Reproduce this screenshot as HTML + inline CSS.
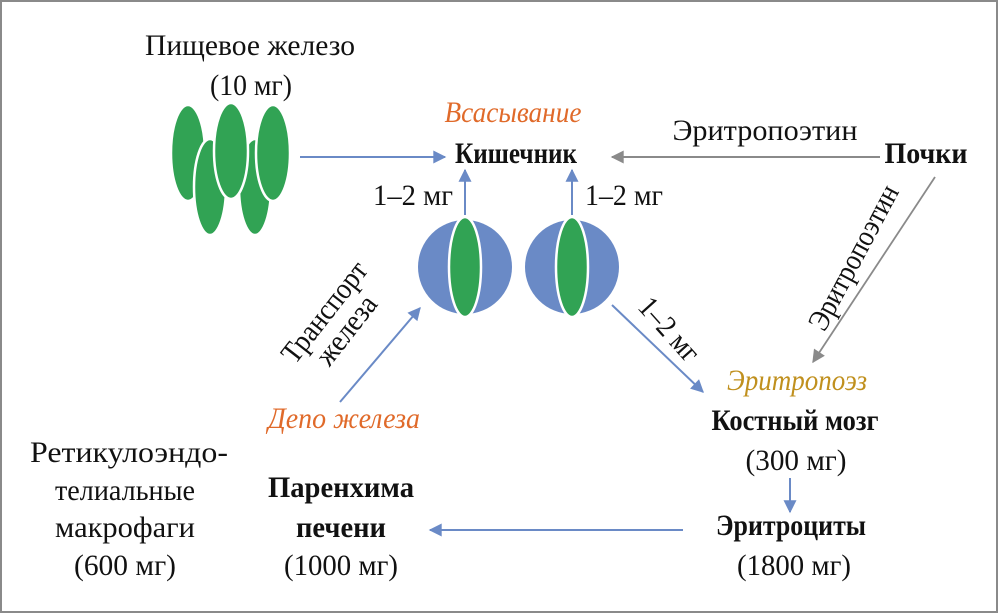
<!DOCTYPE html>
<html><head><meta charset="utf-8"><style>
html,body{margin:0;padding:0;background:#fff}
svg{display:block}
text{font-family:"Liberation Serif",serif;font-size:30px;fill:#111}
.b{font-weight:bold}
.i{font-style:italic}
</style></head><body>
<svg width="998" height="613" viewBox="0 0 998 613" xmlns="http://www.w3.org/2000/svg">
<defs>
<marker id="ab" viewBox="0 0 10 10" refX="9" refY="5" markerWidth="15" markerHeight="13" markerUnits="userSpaceOnUse" orient="auto"><path d="M0,0 L10,5 L0,10 z" fill="#6a8ac6"/></marker>
<marker id="ag" viewBox="0 0 10 10" refX="9" refY="5" markerWidth="15" markerHeight="13" markerUnits="userSpaceOnUse" orient="auto"><path d="M0,0 L10,5 L0,10 z" fill="#8a8a8a"/></marker>
</defs>
<rect x="1" y="1" width="996" height="611" fill="#fff" stroke="#8a8a8a" stroke-width="2"/>

<text x="250" y="55" text-anchor="middle" textLength="210" lengthAdjust="spacingAndGlyphs">Пищевое железо</text>
<text x="251" y="95" text-anchor="middle" textLength="82" lengthAdjust="spacingAndGlyphs">(10 мг)</text>

<g fill="#31a354" stroke="#fff" stroke-width="2.5">
<ellipse cx="188" cy="153" rx="17" ry="48"/>
<ellipse cx="210" cy="187" rx="16" ry="48"/>
<ellipse cx="255" cy="187" rx="16" ry="48"/>
<ellipse cx="231" cy="151" rx="17" ry="48"/>
<ellipse cx="273" cy="153" rx="17" ry="48"/>
</g>

<line x1="300" y1="157" x2="445" y2="157" stroke="#6a8ac6" stroke-width="2" marker-end="url(#ab)"/>
<text x="513" y="122" text-anchor="middle" class="i" style="fill:#e06a2a" textLength="137" lengthAdjust="spacingAndGlyphs">Всасывание</text>
<text x="516" y="163" text-anchor="middle" class="b" textLength="122" lengthAdjust="spacingAndGlyphs">Кишечник</text>
<line x1="880" y1="157" x2="612" y2="157" stroke="#8a8a8a" stroke-width="2" marker-end="url(#ag)"/>
<text x="765" y="140" text-anchor="middle" textLength="185" lengthAdjust="spacingAndGlyphs">Эритропоэтин</text>
<text x="926" y="163" text-anchor="middle" class="b" textLength="83" lengthAdjust="spacingAndGlyphs">Почки</text>

<circle cx="465" cy="267" r="47" fill="#6a8ac6"/>
<ellipse cx="465" cy="267" rx="16" ry="50" fill="#31a354" stroke="#fff" stroke-width="2.5"/>
<circle cx="572" cy="267" r="47" fill="#6a8ac6"/>
<ellipse cx="572" cy="267" rx="16" ry="50" fill="#31a354" stroke="#fff" stroke-width="2.5"/>
<line x1="465" y1="215" x2="465" y2="170" stroke="#6a8ac6" stroke-width="2" marker-end="url(#ab)"/>
<line x1="572" y1="215" x2="572" y2="170" stroke="#6a8ac6" stroke-width="2" marker-end="url(#ab)"/>
<text x="413" y="205" text-anchor="middle" textLength="80" lengthAdjust="spacingAndGlyphs">1–2 мг</text>
<text x="624" y="205" text-anchor="middle" textLength="78" lengthAdjust="spacingAndGlyphs">1–2 мг</text>

<line x1="935" y1="177" x2="813" y2="362" stroke="#8a8a8a" stroke-width="1.8" marker-end="url(#ag)"/>
<text transform="translate(862,262) rotate(-62)" text-anchor="middle" textLength="160" lengthAdjust="spacingAndGlyphs">Эритропоэтин</text>

<line x1="612" y1="305" x2="703" y2="392" stroke="#6a8ac6" stroke-width="2" marker-end="url(#ab)"/>
<text transform="translate(662,336) rotate(48)" text-anchor="middle" textLength="76" lengthAdjust="spacingAndGlyphs">1–2 мг</text>

<line x1="340" y1="402" x2="420" y2="308" stroke="#6a8ac6" stroke-width="2" marker-end="url(#ab)"/>
<text transform="translate(332,318) rotate(-52)" text-anchor="middle" textLength="120" lengthAdjust="spacingAndGlyphs">Транспорт</text>
<text transform="translate(354,336) rotate(-52)" text-anchor="middle" textLength="80" lengthAdjust="spacingAndGlyphs">железа</text>

<text x="344" y="428" text-anchor="middle" class="i" style="fill:#e06a2a" textLength="152" lengthAdjust="spacingAndGlyphs">Депо железа</text>
<text x="797" y="390" text-anchor="middle" class="i" style="fill:#c0901e" textLength="140" lengthAdjust="spacingAndGlyphs">Эритропоэз</text>
<text x="795" y="430" text-anchor="middle" class="b" textLength="167" lengthAdjust="spacingAndGlyphs">Костный мозг</text>
<text x="796" y="470" text-anchor="middle" textLength="101" lengthAdjust="spacingAndGlyphs">(300 мг)</text>
<line x1="790" y1="478" x2="790" y2="512" stroke="#6a8ac6" stroke-width="2" marker-end="url(#ab)"/>
<text x="791" y="535" text-anchor="middle" class="b" textLength="150" lengthAdjust="spacingAndGlyphs">Эритроциты</text>
<text x="794" y="575" text-anchor="middle" textLength="114" lengthAdjust="spacingAndGlyphs">(1800 мг)</text>
<line x1="683" y1="530" x2="430" y2="530" stroke="#6a8ac6" stroke-width="2" marker-end="url(#ab)"/>

<text x="341" y="497" text-anchor="middle" class="b" textLength="146" lengthAdjust="spacingAndGlyphs">Паренхима</text>
<text x="341" y="537" text-anchor="middle" class="b" textLength="90" lengthAdjust="spacingAndGlyphs">печени</text>
<text x="341" y="575" text-anchor="middle" textLength="114" lengthAdjust="spacingAndGlyphs">(1000 мг)</text>

<text x="129" y="462" text-anchor="middle" textLength="198" lengthAdjust="spacingAndGlyphs">Ретикулоэндо-</text>
<text x="125" y="500" text-anchor="middle" textLength="140" lengthAdjust="spacingAndGlyphs">телиальные</text>
<text x="125" y="537" text-anchor="middle" textLength="140" lengthAdjust="spacingAndGlyphs">макрофаги</text>
<text x="125" y="575" text-anchor="middle" textLength="102" lengthAdjust="spacingAndGlyphs">(600 мг)</text>
</svg>
</body></html>
